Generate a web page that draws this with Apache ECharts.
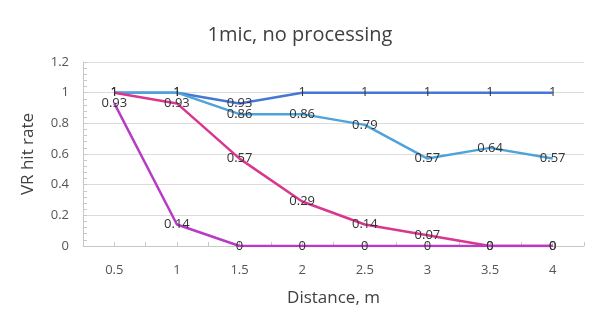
<!DOCTYPE html>
<html>
<head>
<meta charset="utf-8">
<script src="https://cdn.jsdelivr.net/npm/echarts@6/dist/echarts.min.js"></script>
<style>html,body{margin:0;padding:0;background:#fff}#c{width:600px;height:325px}</style>
</head>
<body>
<div id="c"></div>
<script>
var distances = [0.5, 1, 1.5, 2, 2.5, 3, 3.5, 4];
var seriesA = [1, 1, 0.93, 1, 1, 1, 1, 1];
var seriesB = [1, 1, 0.86, 0.86, 0.79, 0.57, 0.64, 0.57];
var seriesC = [1, 0.93, 0.57, 0.29, 0.14, 0.07, 0, 0];
var seriesD = [0.93, 0.14, 0, 0, 0, 0, 0, 0];
var colors = ['#4677d4', '#4ea4da', '#d8368f', '#b83bc6'];

function pairs(vals) { return distances.map(function (d, i) { return [d, vals[i]]; }); }
function mk(vals, color) {
  return {
    type: 'line', data: pairs(vals), symbol: 'circle', symbolSize: 0.01, showSymbol: true,
    lineStyle: { color: color, width: 2.5 }, itemStyle: { color: color },
    label: { show: true, position: 'inside', color: '#333', fontSize: 13, fontFamily: 'Open Sans',
      formatter: function (p) { return String(p.value[1]); } },
    labelLayout: { hideOverlap: false },
    emphasis: { disabled: true }
  };
}
var chart = echarts.init(document.getElementById('c'));
chart.setOption({
  animation: false,
  title: { text: '1mic, no processing', left: 'center', top: 20,
    textStyle: { fontSize: 20, fontWeight: 'normal', color: '#404040', fontFamily: 'Open Sans' } },
  grid: { left: 83, right: 16, top: 62, bottom: 79 },
  xAxis: {
    type: 'value', min: 0.25, max: 4.25, interval: 0.25,
    name: 'Distance, m', nameLocation: 'middle', nameGap: 44,
    nameTextStyle: { fontSize: 17, color: '#404040', fontFamily: 'Open Sans' },
    axisLine: { show: true, lineStyle: { color: '#c8c8c8' } },
    axisTick: { show: true, inside: true, length: 4, lineStyle: { color: '#c8c8c8' } },
    axisLabel: { color: '#555', fontSize: 13, margin: 18, fontFamily: 'Open Sans',
      showMinLabel: true, showMaxLabel: true,
      formatter: function (v) { return distances.indexOf(v) >= 0 ? String(v) : ''; } },
    splitLine: { show: false }
  },
  yAxis: {
    type: 'value', min: 0, max: 1.2, interval: 0.2,
    name: 'VR hit rate', nameLocation: 'middle', nameGap: 46,
    nameTextStyle: { fontSize: 17, color: '#404040', fontFamily: 'Open Sans' },
    axisLine: { show: true, lineStyle: { color: '#c8c8c8' } },
    axisTick: { show: true, inside: true, length: 4, lineStyle: { color: '#c8c8c8' } },
    minorTick: { show: true, splitNumber: 5, length: 4, lineStyle: { color: '#c8c8c8' } },
    axisLabel: { color: '#555', fontSize: 13, margin: 14, fontFamily: 'Open Sans',
      formatter: function (v) { return String(Math.round(v * 10) / 10); } },
    splitLine: { show: true, lineStyle: { color: '#dcdcdc' } }
  },
  series: [mk(seriesA, colors[0]), mk(seriesB, colors[1]), mk(seriesC, colors[2]), mk(seriesD, colors[3])]
});
</script>
</body>
</html>
